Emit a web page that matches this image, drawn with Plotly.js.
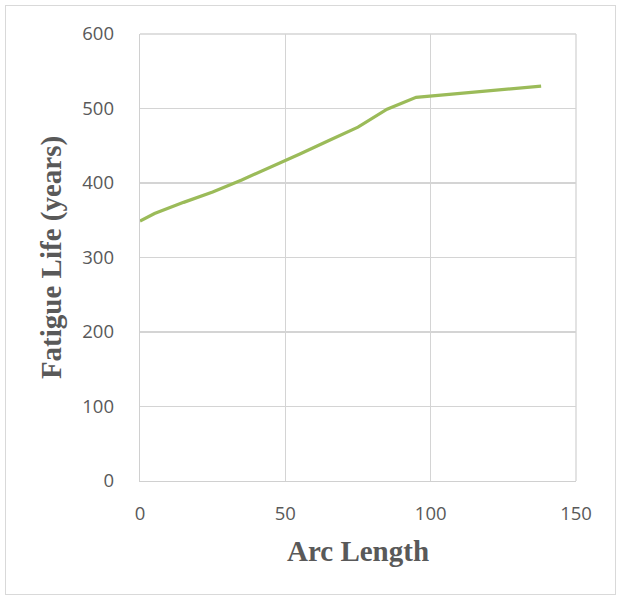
<!DOCTYPE html>
<html><head><meta charset="utf-8">
<script src="https://cdn.plot.ly/plotly-3.0.1.min.js"></script>
<style>
html,body{margin:0;padding:0;background:#fff;}
#frame{position:absolute;left:5px;top:5px;width:611px;height:590px;border:1px solid #d9d9d9;box-sizing:border-box;}
#chart{position:absolute;left:0;top:0;width:621px;height:600px;}
</style></head>
<body>
<div id="frame"></div>
<div id="chart"></div>
<script>
const arcLength = [0, 5, 15, 25, 35, 45, 55, 65, 75, 85, 95, 138];
const fatigueLife = [349, 359, 374, 388, 404, 421, 439, 457, 475, 499, 515, 530];
const xTicks = [0, 50, 100, 150];
const yTicks = [0, 100, 200, 300, 400, 500, 600];

const trace = {
  x: arcLength, y: fatigueLife, type: 'scatter', mode: 'lines',
  line: {color: '#9bbb59', width: 3.2}, hoverinfo: 'skip'
};
const layout = {
  width: 621, height: 600,
  margin: {l: 140, r: 45, t: 34, b: 119},
  paper_bgcolor: 'rgba(0,0,0,0)', plot_bgcolor: '#fff',
  showlegend: false,
  font: {family: 'Open Sans, sans-serif', color: '#595959', size: 18.5},
  xaxis: {
    range: [0, 150], tickvals: xTicks, ticktext: xTicks.map(String),
    showgrid: true, gridcolor: '#d4d4d4', gridwidth: 1.3,
    zeroline: false, showline: true, linecolor: '#d0d0d0', linewidth: 1.3,
    ticks: '', ticklabelstandoff: 15, mirror: false,
    tickfont: {family: 'Open Sans, sans-serif', size: 18.5, color: '#595959'},
    title: {text: 'Arc Length', standoff: 17,
      font: {family: 'Liberation Serif, Times New Roman, serif', size: 29, color: '#595959', weight: 'bold'}}
  },
  yaxis: {
    range: [0, 600], tickvals: yTicks, ticktext: yTicks.map(String),
    showgrid: true, gridcolor: '#d4d4d4', gridwidth: 1.3,
    zeroline: false, showline: true, linecolor: '#d0d0d0', linewidth: 1.3,
    ticks: '', ticklabelstandoff: 21,
    tickfont: {family: 'Open Sans, sans-serif', size: 18.5, color: '#595959'},
    title: {text: 'Fatigue Life (years)', standoff: 12,
      font: {family: 'Liberation Serif, Times New Roman, serif', size: 29, color: '#595959', weight: 'bold'}}
  },
  shapes: [
    {type: 'line', xref: 'paper', yref: 'paper', x0: 1, x1: 1, y0: 0, y1: 1, line: {color: '#d4d4d4', width: 1.3}},
    {type: 'line', xref: 'paper', yref: 'paper', x0: 0, x1: 1, y0: 1, y1: 1, line: {color: '#d4d4d4', width: 1.3}}
  ]
};
Plotly.newPlot('chart', [trace], layout, {displayModeBar: false, staticPlot: true});
</script>
</body></html>
